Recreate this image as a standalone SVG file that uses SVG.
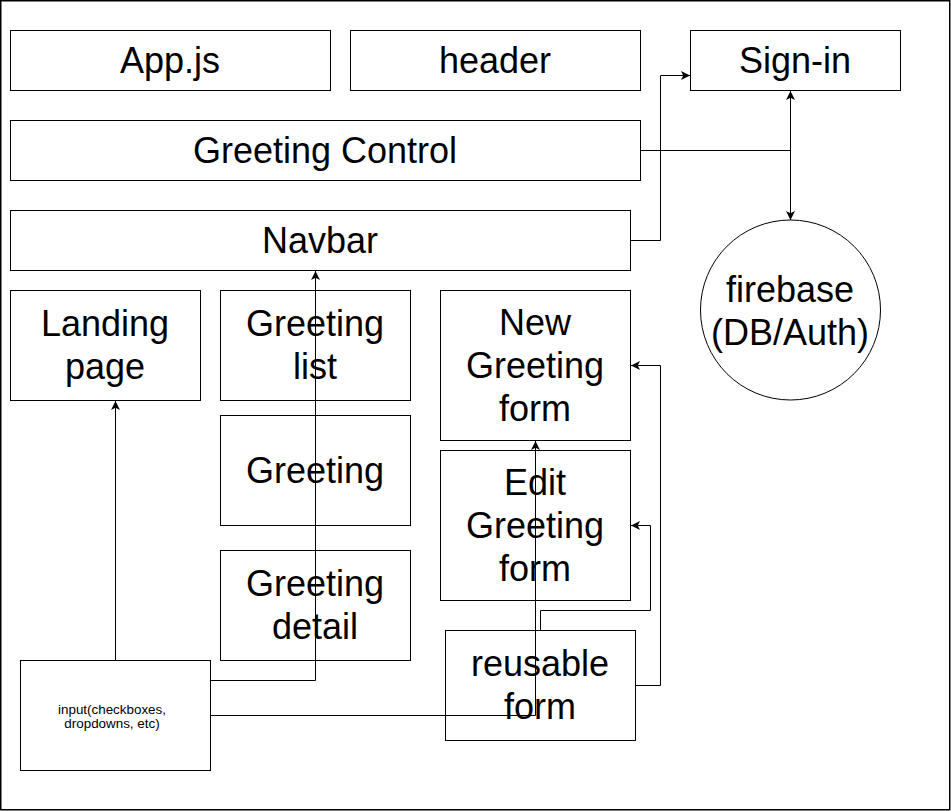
<svg xmlns="http://www.w3.org/2000/svg" width="951" height="811" viewBox="0 0 951 811">
<defs>
<style>
.n{fill:#fff;stroke:#000;stroke-width:1}
.t{font-family:"Liberation Sans",Arial,Helvetica,sans-serif;font-size:36px;fill:#000;text-anchor:middle}
.s{font-family:"Liberation Sans",Arial,Helvetica,sans-serif;font-size:13.4px;fill:#000;text-anchor:middle}
.e{fill:none;stroke:#000;stroke-width:1}
</style>
<marker id="a" viewBox="0 0 10 10" refX="10" refY="5" markerWidth="9" markerHeight="9" markerUnits="userSpaceOnUse" orient="auto-start-reverse">
<path d="M0,0 L10,5 L0,10 L2.5,5 Z" fill="#000"/>
</marker>
</defs>
<rect x="0" y="0" width="951" height="811" fill="#fff"/>
<rect x="0.75" y="0.75" width="949" height="809" fill="none" stroke="#000" stroke-width="1.5"/>
<g id="app"><rect class="n" x="10.5" y="30.5" width="320" height="60"/><text class="t" x="170" y="73">App.js</text></g>
<g id="header"><rect class="n" x="350.5" y="30.5" width="290" height="60"/><text class="t" x="495" y="73">header</text></g>
<g id="signin"><rect class="n" x="690.5" y="30.5" width="210" height="60"/><text class="t" x="795" y="73">Sign-in</text></g>
<g id="greetingControl"><rect class="n" x="10.5" y="120.5" width="630" height="60"/><text class="t" x="325" y="163">Greeting Control</text></g>
<g id="navbar"><rect class="n" x="10.5" y="210.5" width="620" height="60"/><text class="t" x="320" y="253">Navbar</text></g>
<g id="landing"><rect class="n" x="10.5" y="290.5" width="190" height="110"/><text class="t" x="105" y="336">Landing</text><text class="t" x="105" y="379">page</text></g>
<g id="greetingList"><rect class="n" x="220.5" y="290.5" width="190" height="110"/><text class="t" x="315" y="336">Greeting</text><text class="t" x="315" y="379">list</text></g>
<g id="greeting"><rect class="n" x="220.5" y="415.5" width="190" height="110"/><text class="t" x="315" y="483">Greeting</text></g>
<g id="greetingDetail"><rect class="n" x="220.5" y="550.5" width="190" height="110"/><text class="t" x="315" y="596">Greeting</text><text class="t" x="315" y="639">detail</text></g>
<g id="newForm"><rect class="n" x="440.5" y="290.5" width="190" height="150"/><text class="t" x="535" y="335">New</text><text class="t" x="535" y="378">Greeting</text><text class="t" x="535" y="421">form</text></g>
<g id="editForm"><rect class="n" x="440.5" y="450.5" width="190" height="150"/><text class="t" x="535" y="495">Edit</text><text class="t" x="535" y="538">Greeting</text><text class="t" x="535" y="581">form</text></g>
<g id="reusableForm"><rect class="n" x="445.5" y="630.5" width="190" height="110"/><text class="t" x="540" y="676">reusable</text><text class="t" x="540" y="719">form</text></g>
<g id="input"><rect class="n" x="20.5" y="660.5" width="190" height="110"/><text class="s" x="112" y="714">input(checkboxes,</text><text class="s" x="112" y="728">dropdowns, etc)</text></g>
<g id="firebase"><circle class="n" cx="790.5" cy="310" r="90"/><text class="t" x="790" y="302">firebase</text><text class="t" x="790" y="345">(DB/Auth)</text></g>
<g id="connectors">
<path class="e" d="M640.5,150.5 H790.5 V91" marker-end="url(#a)"/>
<path class="e" d="M640.5,150.5 H790.5 V220" marker-end="url(#a)"/>
<path class="e" d="M630.5,240.5 H660.5 V75.5 H690" marker-end="url(#a)"/>
<path class="e" d="M210.5,680.5 H315.5 V271" marker-end="url(#a)"/>
<path class="e" d="M115.5,660.5 V401" marker-end="url(#a)"/>
<path class="e" d="M210.5,715.5 H535.5 V441" marker-end="url(#a)"/>
<path class="e" d="M540.5,630.5 V610.5 H650.5 V525.5 H631" marker-end="url(#a)"/>
<path class="e" d="M635.5,685.5 H660.5 V365.5 H631" marker-end="url(#a)"/>
</g>
</svg>
